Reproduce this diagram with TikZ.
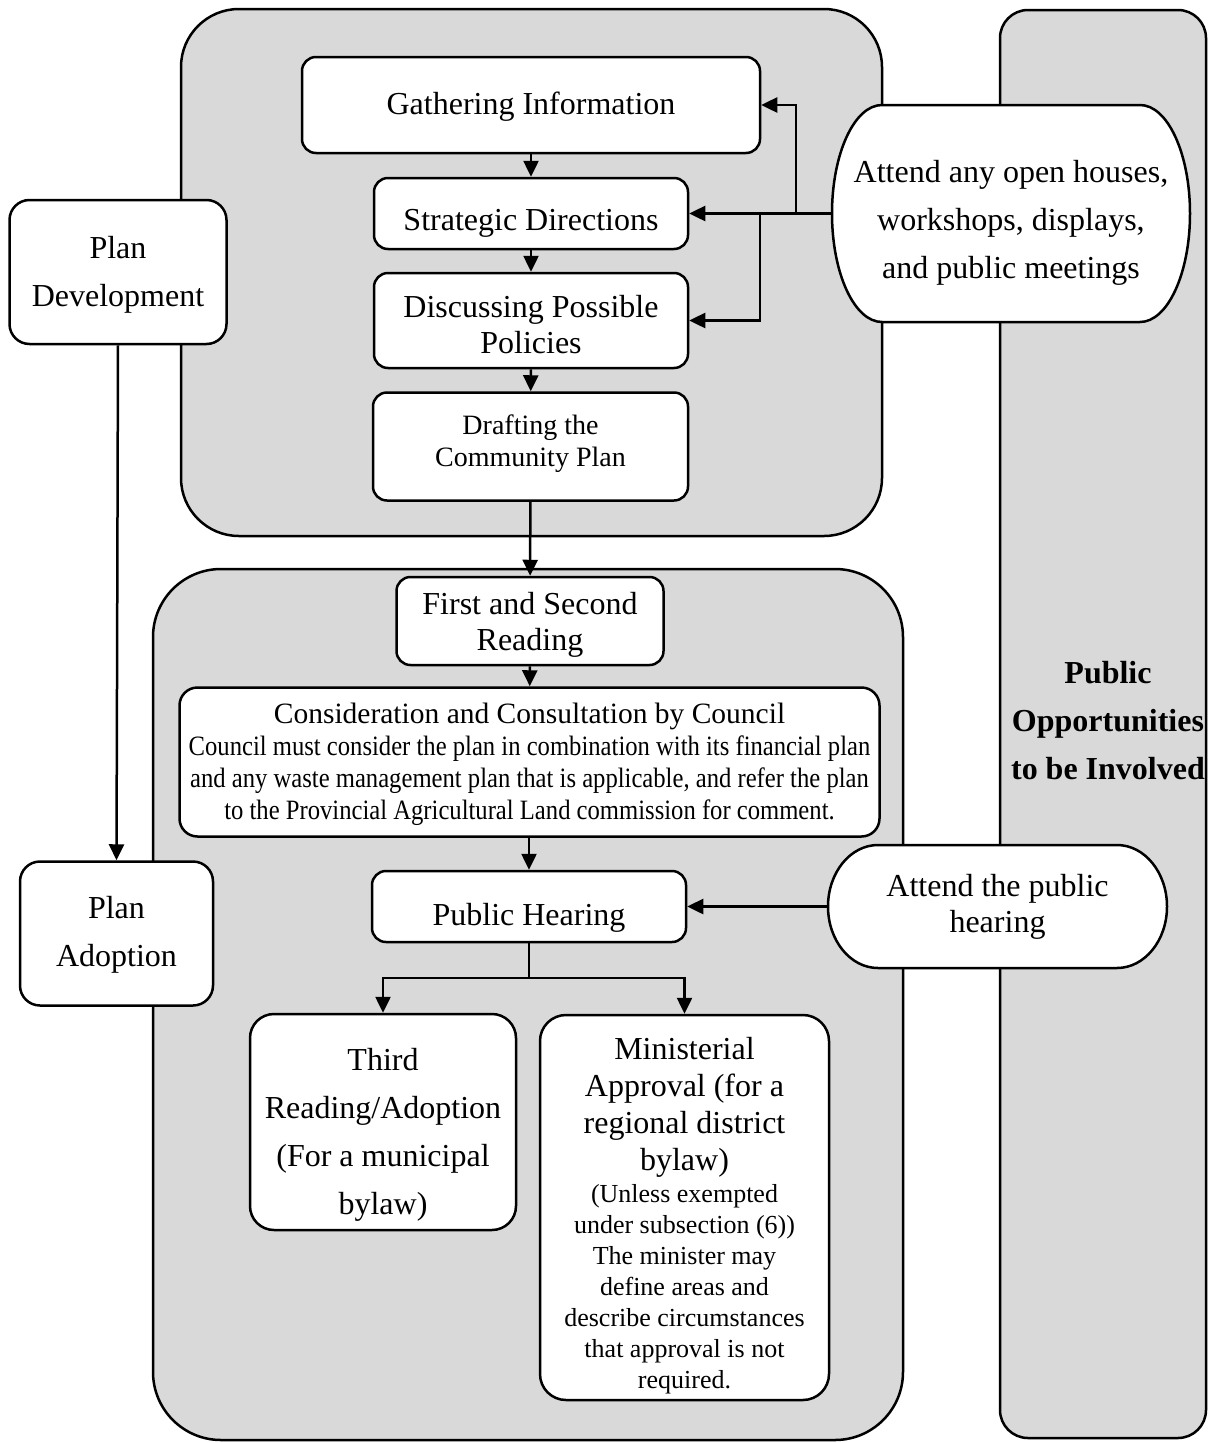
\documentclass[tikz,border=0pt]{standalone}
\usepackage{fontspec}
\setmainfont{Liberation Serif}
\newfontfamily\condfont[FakeStretch=0.88]{Liberation Serif}
\usetikzlibrary{arrows.meta}
\begin{document}
\begin{tikzpicture}[x=1pt,y=-1pt,
  panel/.style={draw, line width=2.5pt, fill=black!15},
  box/.style={draw, line width=2.5pt, fill=white, rounded corners=14pt, align=center, inner sep=0pt, font=\fontsize{32}{48}\selectfont},
  txt/.style={align=center, inner sep=0pt, font=\fontsize{32}{48}\selectfont},
  stad/.style={draw, line width=2.5pt, fill=white},
  arr/.style={line width=2.5pt, -{Triangle[length=16pt,width=15pt]}},
  ln/.style={line width=2.5pt}]
\useasboundingbox (0,0) rectangle (1209,1443);
\fill[white] (0,0) rectangle (1209,1443);
% panels
\draw[panel, rounded corners=58pt] (181,9) rectangle (882,536);
\draw[panel, rounded corners=68pt] (153,569) rectangle (903,1440);
\draw[panel, rounded corners=28pt] (1000,10) rectangle (1206,1438);
\node[txt, font=\fontsize{32}{48}\selectfont\bfseries] (pub) at (1108,721) {Public\\Opportunities\\to be Involved};

% stadium outlines
\draw[stad] (882,105) -- (1140,105) .. controls (1167.6,105) and (1190,153.6) .. (1190,213.5) .. controls (1190,273.4) and (1167.6,322) .. (1140,322) -- (882,322) .. controls (854.4,322) and (832,273.4) .. (832,213.5) .. controls (832,153.6) and (854.4,105) .. (882,105) -- cycle;
\draw[stad] (878,845) -- (1117,845) .. controls (1144.6,845) and (1167,872.5) .. (1167,906.5) .. controls (1167,940.5) and (1144.6,968) .. (1117,968) -- (878,968) .. controls (850.4,968) and (828,940.5) .. (828,906.5) .. controls (828,872.5) and (850.4,845) .. (878,845) -- cycle;
\node[txt, minimum width=358pt, minimum height=217pt, label={[txt, yshift=-9pt]center:{Attend any open houses,\\workshops, displays,\\and public meetings}}] (att1) at (1011,213.5) {};
\node[txt, minimum width=339pt, minimum height=123pt, font=\fontsize{32}{36}\selectfont] (att2) at (997.5,906.5) {Attend the public\\hearing};

% boxes
\node[box, minimum width=458pt, minimum height=96pt, label={[txt, yshift=-2pt]center:{Gathering Information}}] (gi) at (531,105) {};
\node[box, minimum width=314pt, minimum height=71pt, label={[txt, yshift=-10pt]center:{Strategic Directions}}] (sd) at (531,213.5) {};
\node[box, minimum width=314pt, minimum height=95pt, label={[txt, font=\fontsize{32}{36}\selectfont, yshift=-4pt]center:{Discussing Possible\\Policies}}] (dpp) at (531,320.5) {};
\node[box, minimum width=315pt, minimum height=108pt, label={[txt, font=\fontsize{28}{32}\selectfont, yshift=3pt]center:{Drafting the\\Community Plan}}] (dr) at (530.5,446.5) {};
\node[box, minimum width=267pt, minimum height=88pt, label={[txt, font=\fontsize{32}{36}\selectfont, yshift=-4pt]center:{First and Second\\Reading}}] (fsr) at (530,621) {};
\node[box, minimum width=700pt, minimum height=149pt, rounded corners=18pt] (cons) at (529.5,762) {};
\node[txt, font=\fontsize{29.5}{32}\selectfont] (consA) at (529.5,716) {Consideration and Consultation by Council};
\node[txt, font=\condfont\fontsize{28}{32}\selectfont] (consB) at (529.5,781) {Council must consider the plan in combination with its financial plan\\and any waste management plan that is applicable, and refer the plan\\to the Provincial Agricultural Land commission for comment.};
\node[box, minimum width=314pt, minimum height=71pt, label={[txt, yshift=-11pt]center:{Public Hearing}}] (ph) at (529,906.5) {};
\node[box, minimum width=266pt, minimum height=216pt, rounded corners=24pt, label={[txt, yshift=-13pt]center:{Third\\Reading/Adoption\\(For a municipal\\bylaw)}}] (third) at (383,1122) {};
\node[box, minimum width=289pt, minimum height=385pt, rounded corners=26pt] (minr) at (684.5,1207.5) {};
\node[txt, font=\fontsize{32}{37}\selectfont] (minA) at (684.5,1107) {Ministerial\\Approval (for a\\regional district\\bylaw)};
\node[txt, font=\fontsize{26}{31}\selectfont] (minB) at (684.5,1289.5) {(Unless exempted\\under subsection (6))\\The minister may\\define areas and\\describe circumstances\\that approval is not\\required.};
\node[box, minimum width=217pt, minimum height=144pt, rounded corners=20pt, label={[txt, yshift=-3pt]center:{Plan\\Development}}] (pd) at (118,272) {};
\node[box, minimum width=193pt, minimum height=144pt, rounded corners=20pt, label={[txt, yshift=-1pt]center:{Plan\\Adoption}}] (pa) at (116.5,933.5) {};

% connectors
\draw[arr] (gi) -- (sd);
\draw[arr] (sd) -- (dpp);
\draw[arr] (dpp) -- (dr);
\draw[arr] (dr) -- (fsr);
\draw[arr] (fsr) -- (cons);
\draw[arr] (cons.south -| ph.north) -- (ph);
\coordinate (sp) at (529,978);
\draw[ln] (ph.south) -- (sp);
\draw[arr] (sp) -| (third.north);
\draw[arr] (sp) -| (minr.north);
\draw[arr] (att1.west) -- (sd.east);
\coordinate (b1) at (796,213.5);
\coordinate (b2) at (760,213.5);
\draw[arr] (b1) |- (gi.east);
\draw[arr] (b2) |- (dpp.east);
\draw[arr] (att2.west) -- (ph.east);
\draw[arr] (pd.south) -- (pa.north);
\end{tikzpicture}
\end{document}
